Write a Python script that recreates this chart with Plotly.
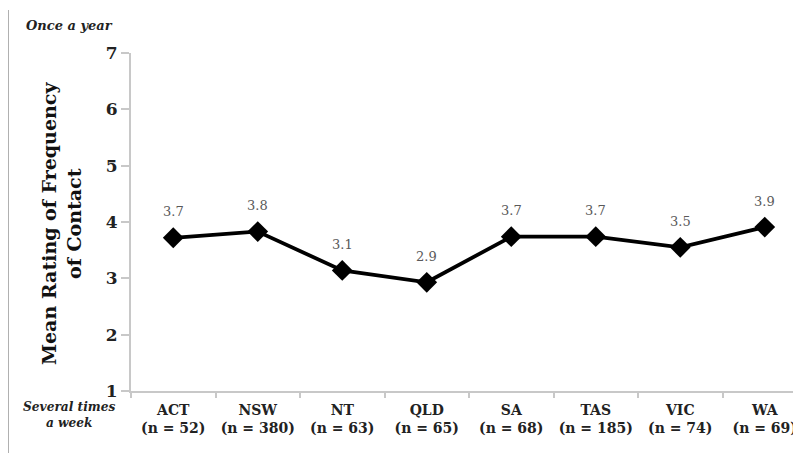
import plotly.graph_objects as go

regions = ["ACT", "NSW", "NT", "QLD", "SA", "TAS", "VIC", "WA"]
sample_sizes = ["52", "380", "63", "65", "68", "185", "74", "69"]
mean_ratings = [3.72, 3.83, 3.14, 2.93, 3.74, 3.74, 3.55, 3.91]
rating_labels = ["3.7", "3.8", "3.1", "2.9", "3.7", "3.7", "3.5", "3.9"]
y_ticks = [1, 2, 3, 4, 5, 6, 7]

OFF = 8  # page body margin
W, H = 801 - OFF, 453 - OFF
L, T = 131 - OFF, 53 - OFF
R = 0
B = H - (391 - OFF)
PW, PH = W - L - R, H - T - B

def px(x):  # page pixel -> paper x
    return (x - OFF - L) / PW

def py(y):  # page pixel -> paper y
    return (H - B - (y - OFF)) / PH

FONT = "DejaVu Serif"
tick_text = [f"<b>{r}<br>(n = {n})</b>" for r, n in zip(regions, sample_sizes)]

fig = go.Figure()
fig.add_trace(go.Scatter(
    x=regions, y=mean_ratings, mode="lines+markers",
    line=dict(color="black", width=3.8),
    marker=dict(symbol="diamond", size=16, color="black"),
    hoverinfo="skip", showlegend=False,
))

for r, v, t in zip(regions, mean_ratings, rating_labels):
    fig.add_annotation(x=r, y=v, text=t, showarrow=False, yshift=26,
                       font=dict(family=FONT, size=13, color="#595959"))

fig.update_xaxes(
    type="category", categoryorder="array", categoryarray=regions,
    tickvals=regions, ticktext=tick_text, tickangle=0,
    range=[-0.5, -0.5 + PW / 84.5],
    showline=True, linecolor="#c8c8c8", linewidth=2,
    ticks="outside", tickson="boundaries", ticklen=5, tickcolor="#c8c8c8", tickwidth=2,
    ticklabelstandoff=5,
    showgrid=False, zeroline=False,
    tickfont=dict(family=FONT, size=14, color="#222222"),
)
fig.update_yaxes(
    range=[1, 7], tickvals=y_ticks, ticktext=[f"<b>{v}</b>" for v in y_ticks],
    showline=True, linecolor="#c8c8c8", linewidth=2,
    ticks="outside", ticklen=8, tickcolor="#c8c8c8", tickwidth=2,
    showgrid=False, zeroline=False,
    tickfont=dict(family=FONT, size=17, color="#222222"),
)

fig.add_annotation(xref="paper", yref="paper", x=px(61), y=py(224),
                   xanchor="center", yanchor="middle",
                   text="<b>Mean Rating of Frequency<br>of Contact</b>",
                   textangle=-90, showarrow=False,
                   font=dict(family=FONT, size=19, color="#111111"))
fig.add_annotation(xref="paper", yref="paper", x=px(24), y=py(25),
                   xanchor="left", yanchor="middle",
                   text="<b><i>Once a year</i></b>", showarrow=False,
                   font=dict(family=FONT, size=13, color="#222222"))
fig.add_annotation(xref="paper", yref="paper", x=px(69), y=py(415),
                   xanchor="center", yanchor="middle",
                   text="<b><i>Several times<br>a week</i></b>", showarrow=False,
                   font=dict(family=FONT, size=12.2, color="#222222"))

fig.add_shape(type="line", xref="paper", yref="paper",
              x0=px(8), x1=px(8), y0=py(10), y1=py(453),
              line=dict(color="#b0b0b0", width=2))

fig.update_layout(
    width=W, height=H,
    margin=dict(l=L, r=R, t=T, b=B, autoexpand=False),
    paper_bgcolor="white", plot_bgcolor="white",
)

fig.write_html("out.html")
